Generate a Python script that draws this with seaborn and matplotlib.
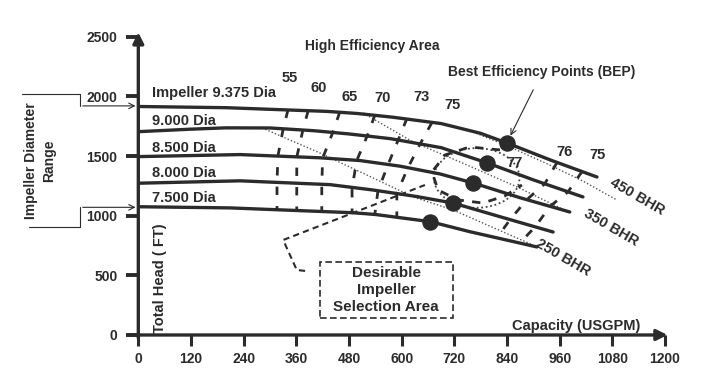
import numpy as np
import pandas as pd
import matplotlib
matplotlib.use("Agg")
import matplotlib.pyplot as plt
from matplotlib.patches import Ellipse, Rectangle
import seaborn as sns

sns.set_style("white")
plt.rcParams['font.family'] = ['Liberation Sans', 'DejaVu Sans']
INK = "#2b2b2b"

# --- impeller head curves (capacity USGPM, head ft) ---
impellers = ["9.375", "9.000", "8.500", "8.000", "7.500"]
cap_9375 = [0, 200, 340, 430, 500, 580, 690, 780, 840, 940, 1045]
head_9375 = [1915, 1905, 1886, 1874, 1856, 1825, 1772, 1690, 1609, 1465, 1324]
cap_9000 = [0, 120, 200, 300, 400, 480, 575, 690, 795, 900, 1013]
head_9000 = [1704, 1725, 1736, 1735, 1712, 1685, 1645, 1570, 1442, 1300, 1157]
cap_8500 = [0, 232, 414, 505, 596, 687, 763, 870, 983]
head_8500 = [1495, 1512, 1485, 1462, 1415, 1350, 1274, 1150, 1031]
cap_8000 = [0, 232, 437, 535, 635, 717, 830, 945]
head_8000 = [1272, 1292, 1260, 1215, 1160, 1106, 985, 863]
cap_7500 = [0, 210, 487, 540, 665, 755, 908]
head_7500 = [1075, 1065, 1025, 1010, 950, 866, 738]
imp_labels = ["Impeller 9.375 Dia", "9.000 Dia", "8.500 Dia", "8.000 Dia", "7.500 Dia"]
imp_label_head = [2028, 1794, 1567, 1358, 1148]

# best efficiency points
bep_cap = [840, 795, 763, 717, 665]
bep_head = [1609, 1442, 1274, 1106, 950]

# efficiency contours (crossing points on each impeller curve)
eff_names = ["55", "60", "65", "70", "73", "75", "76", "75"]
eff_cap = [[341, 330, 318, 316, 316], [387, 375, 361, 361, 361],
           [459, 443, 420, 418, 418], [539, 521, 498, 487, 487],
           [612, 592, 569, 546, 539], [669, 642, 614, 589, 589],
           [954, 926, 885, 847, 817], [1011, 979, 938, 904, 869]]
eff_head = [[1886, 1726, 1499, 1279, 1050], [1880, 1718, 1491, 1271, 1044],
            [1868, 1697, 1482, 1261, 1035], [1842, 1664, 1465, 1236, 1025],
            [1815, 1633, 1428, 1209, 1014], [1781, 1601, 1400, 1185, 989],
            [1446, 1267, 1134, 967, 814], [1370, 1200, 1078, 906, 770]]
eff_label_cap = [346, 410, 482, 557, 646, 715, 972, 1047]
eff_label_head = [2154, 2070, 1995, 1987, 1995, 1928, 1534, 1509]

# brake horsepower lines
bhp_names = ["450 BHR", "350 BHR", "250 BHR"]
bhp_cap = [[770, 850, 940, 1013, 1090], [512, 626, 733, 863, 984],
           [282, 414, 535, 626, 717, 899]]
bhp_head = [[1690, 1570, 1420, 1290, 1132], [1861, 1618, 1450, 1241, 1023],
            [1735, 1525, 1316, 1157, 1048, 754]]
bhp_label_cap = [1136, 1077, 968]
bhp_label_head = [1157, 897, 646]

# desirable selection area boundary and leader
area_cap = [824, 755, 699, 669, 683, 728, 785, 835, 874]
area_head = [1551, 1576, 1509, 1366, 1215, 1132, 1106, 1165, 1257]
leader_cap = [380, 361, 330, 653]
leader_head = [537, 545, 796, 1257]

x_ticks = [0, 120, 240, 360, 480, 600, 720, 840, 960, 1080, 1200]
y_ticks = [0, 500, 1000, 1500, 2000, 2500]

curves = pd.concat([
    pd.DataFrame({"capacity": c, "head": h, "impeller": n})
    for c, h, n in zip([cap_9375, cap_9000, cap_8500, cap_8000, cap_7500],
                       [head_9375, head_9000, head_8500, head_8000, head_7500],
                       impellers)])
eff = pd.concat([pd.DataFrame({"capacity": c, "head": h, "eff": i})
                 for i, (c, h) in enumerate(zip(eff_cap, eff_head))])
bhp = pd.concat([pd.DataFrame({"capacity": c, "head": h, "bhp": n})
                 for c, h, n in zip(bhp_cap, bhp_head, bhp_names)])

fig = plt.figure(figsize=(7.17, 3.85), dpi=100)
ax = fig.add_axes([0.1929, 0.1299, 0.7346, 0.7748])

sns.lineplot(data=bhp, x="capacity", y="head", units="bhp", estimator=None,
             sort=False, color="#555555", lw=1.0, linestyle=(0, (1, 1.5)), ax=ax)
sns.lineplot(data=eff, x="capacity", y="head", units="eff", estimator=None,
             sort=False, color=INK, lw=2.0, linestyle=(0, (3, 4)), ax=ax)
sns.lineplot(data=curves, x="capacity", y="head", units="impeller", estimator=None,
             sort=False, color=INK, lw=2.4, ax=ax)
sns.scatterplot(x=bep_cap, y=bep_head, s=120, color=INK, edgecolor=INK, zorder=5, ax=ax)

ax.plot(area_cap, area_head, color=INK, lw=2.0, linestyle=(0, (3, 3)))
ax.plot(leader_cap, leader_head, color=INK, lw=1.5, linestyle=(0, (3, 2)))
ax.add_patch(Ellipse((771, 1316), 195, 500, fill=False, ec="#444444", lw=1.3,
                     linestyle=(0, (1, 1.5))))
ax.add_patch(Rectangle((414, 143), 303, 469, fill=False, ec=INK, lw=1.2,
                       linestyle=(0, (4, 2))))
ax.text(565, 377, "Desirable\nImpeller\nSelection Area", ha="center", va="center",
        fontsize=11, fontweight="bold", color=INK, linespacing=1.25)

for lab, h in zip(imp_labels, imp_label_head):
    ax.text(31, h, lab, ha="left", va="center", fontsize=10.5, fontweight="bold", color=INK)
for lab, c, h in zip(eff_names, eff_label_cap, eff_label_head):
    ax.text(c, h, lab, ha="center", va="center", fontsize=10.5, fontweight="bold", color=INK)
ax.text(856, 1442, "77", ha="center", va="center", fontsize=10.5, fontweight="bold", color=INK)
for lab, c, h in zip(bhp_names, bhp_label_cap, bhp_label_head):
    ax.text(c, h, lab, ha="center", va="center", rotation=-30, fontsize=10.5,
            fontweight="bold", color=INK)

ax.text(533, 2423, "High Efficiency Area", ha="center", va="center",
        fontsize=10, fontweight="bold", color=INK)
ax.annotate("Best Efficiency Points (BEP)", xy=(845, 1650), xytext=(920, 2204),
            ha="center", va="center", fontsize=10, fontweight="bold", color=INK,
            arrowprops=dict(arrowstyle="->", color=INK, lw=0.8, shrinkA=6))
ax.text(50, 478, "Total Head ( FT)", rotation=90, ha="center", va="center",
        fontsize=10.5, fontweight="bold", color=INK)
ax.text(998, 75, "Capacity (USGPM)", ha="center", va="center",
        fontsize=10.5, fontweight="bold", color=INK)

# axes with arrows
ax.annotate("", xy=(0, 2560), xytext=(0, -50), annotation_clip=False,
            arrowprops=dict(arrowstyle="-|>", color=INK, lw=2.4, mutation_scale=16))
ax.annotate("", xy=(1212, 0), xytext=(-25, 0), annotation_clip=False,
            arrowprops=dict(arrowstyle="-|>", color=INK, lw=2.4, mutation_scale=16))

# impeller diameter range bracket
ax.plot([-265, -133, -133], [2020, 2020, 1920], color=INK, lw=0.8, clip_on=False)
ax.annotate("", xy=(0, 1920), xytext=(-133, 1920), annotation_clip=False,
            arrowprops=dict(arrowstyle="->", color=INK, lw=0.8))
ax.plot([-250, -133, -133], [905, 905, 1070], color=INK, lw=0.8, clip_on=False)
ax.annotate("", xy=(0, 1070), xytext=(-133, 1070), annotation_clip=False,
            arrowprops=dict(arrowstyle="->", color=INK, lw=0.8))
ax.text(-224, 1459, "Impeller Diameter\nRange", rotation=90, ha="center", va="center",
        fontsize=10, fontweight="bold", color=INK, linespacing=1.3)

ax.set_xlim(0, 1200)
ax.set_ylim(0, 2500)
ax.set_xticks(x_ticks)
ax.set_yticks(y_ticks)
ax.set_xticklabels([str(v) for v in x_ticks], fontsize=10, fontweight="bold", color=INK)
ax.set_yticklabels([str(v) for v in y_ticks], fontsize=10, fontweight="bold", color=INK)
ax.tick_params(axis="x", bottom=True, direction="out", length=8, width=2.2, color=INK, pad=4)
ax.tick_params(axis="y", left=True, direction="out", length=9, width=2.8, color=INK, pad=6)
ax.set_xlabel("")
ax.set_ylabel("")
for s in ax.spines.values():
    s.set_visible(False)

fig.savefig("out.png", dpi=100)
